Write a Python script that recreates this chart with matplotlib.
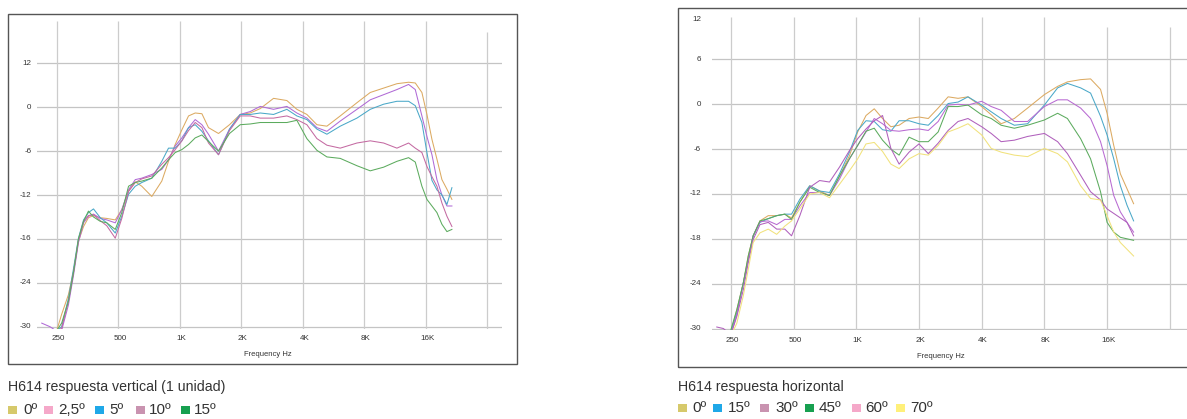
import numpy as np
import matplotlib
matplotlib.use('Agg')
import matplotlib.pyplot as plt
from matplotlib.patches import Rectangle
from matplotlib.transforms import blended_transform_factory, offset_copy

nan = np.nan

# ---------------- data: vertical response (left chart) ----------------
freqs_v = [211, 232, 250, 264, 285, 302, 319, 338, 357, 378, 408, 439, 483, 520, 561,
           605, 651, 729, 816, 880, 949, 1023, 1103, 1189, 1282, 1381, 1546, 1750,
           1974, 2210, 2474, 2874, 3340, 3737, 4184, 4685, 5243, 6093, 7352, 8543,
           9932, 11538, 13160, 14190, 15290, 16180, 17120, 18110, 19160, 20270, 21440]
v_0 = [nan, nan, -30.5, -28.3, -25.6, -22.4, -18.3, -16.3, -15.1, -14.8, -15.1, -15.2, -15.4, -14.0, -11.5,
       -10.2, -10.8, -12.2, -10.1, -7.4, -5.1, -3.1, -1.2, -0.8, -0.9, -2.8, -3.6, -2.4,
       -1.0, -0.8, -0.2, 1.2, 0.9, -0.3, -1.0, -2.4, -2.6, -1.2, 0.6, 2.0,
       2.6, 3.2, 3.4, 3.3, 2.0, -1.0, -4.4, -7.1, -9.9, -11.2, -12.6]
v_25 = [-29.5, -30.0, -30.6, -30.5, -27.0, -22.9, -18.5, -15.8, -14.9, -14.6, -15.2, -15.4, -15.8, -14.0, -11.3,
        -9.9, -9.7, -9.2, -8.5, -7.2, -5.3, -4.2, -2.8, -1.7, -2.4, -3.7, -6.0, -3.0,
        -1.0, -0.6, 0.1, -0.3, 0.1, -0.8, -1.5, -2.8, -3.3, -1.9, -0.3, 1.0,
        1.7, 2.4, 3.1, 2.4, -1.2, -4.0, -6.5, -9.9, -12.0, -13.5, -13.5]
v_5 = [nan, nan, -30.5, -30.0, -26.1, -22.0, -17.9, -15.4, -14.4, -13.9, -15.1, -15.8, -17.2, -14.9, -11.9,
       -10.8, -10.3, -9.7, -7.4, -5.6, -5.6, -4.6, -2.8, -2.4, -3.3, -4.6, -6.5, -3.0,
       -1.0, -1.0, -0.8, -1.0, -0.3, -1.2, -1.7, -3.0, -3.7, -2.6, -1.5, -0.3,
       0.4, 0.8, 0.8, 0.2, -2.1, -6.2, -10.0, -11.3, -12.0, -13.3, -11.0]
v_10 = [nan, nan, -30.6, -30.2, -26.5, -22.5, -18.2, -15.6, -14.8, -14.7, -15.5, -16.2, -17.9, -15.2, -11.5,
        -10.3, -9.8, -9.4, -7.8, -6.9, -5.8, -4.6, -3.2, -2.1, -2.8, -4.9, -6.5, -3.2,
        -1.2, -1.2, -1.5, -1.5, -1.2, -1.7, -2.4, -4.3, -5.2, -5.6, -4.9, -4.6,
        -4.9, -5.6, -4.9, -5.6, -6.2, -8.1, -9.5, -10.8, -13.1, -14.9, -16.3]
v_15 = [nan, nan, -30.5, -29.5, -26.5, -22.5, -18.0, -15.6, -14.2, -15.0, -15.6, -15.8, -16.7, -14.4, -10.8,
        -10.3, -10.1, -9.7, -8.3, -7.2, -6.2, -5.8, -5.1, -4.2, -3.8, -4.7, -6.0, -3.6,
        -2.4, -2.3, -2.1, -2.1, -2.1, -1.8, -4.3, -5.9, -6.8, -7.0, -8.0, -8.7,
        -8.2, -7.4, -6.9, -7.5, -10.8, -12.6, -13.5, -14.4, -16.0, -17.0, -16.7]
labels_v = ['0º', '2,5º', '5º', '10º', '15º']
title_v = 'H614 respuesta vertical (1 unidad)'

# ---------------- data: horizontal response (right chart) ----------------
freqs_h = [214, 230, 250, 267, 287, 303, 320, 345, 378, 415, 454, 489, 536, 598, 667,
           744, 831, 927, 1016, 1114, 1220, 1337, 1466, 1606, 1793, 2000, 2217, 2473,
           2761, 3081, 3438, 4000, 4445, 4959, 5740, 6647, 8000, 9262, 10320, 11940,
           13330, 14880, 16000, 17220, 18530, 19940, 21450]
h_0 = [nan, nan, -30.5, -27.5, -23.9, -20.3, -17.6, -15.6, -14.9, -14.9, -14.7, -15.2, -13.1, -10.9, -11.6,
       -12.2, -9.6, -6.9, -3.7, -1.5, -0.6, -1.9, -3.0, -2.8, -1.9, -1.7, -1.9, -0.5,
       1.0, 0.8, 1.0, -0.3, -1.4, -2.6, -1.9, -0.5, 1.3, 2.4, 3.0, 3.3,
       3.4, 2.0, -1.2, -5.5, -9.3, -11.3, -13.3]
h_15 = [nan, nan, -30.5, -27.9, -23.9, -20.8, -17.6, -15.8, -15.3, -14.9, -14.7, -14.7, -12.7, -10.9, -11.6,
        -11.8, -9.3, -6.4, -3.5, -2.2, -2.3, -3.4, -3.6, -2.2, -2.2, -2.6, -2.8, -1.5,
        0.1, 0.3, 1.0, -0.1, -1.0, -1.9, -2.8, -2.6, -0.1, 2.2, 2.8, 2.2,
        1.5, -1.6, -4.1, -7.3, -10.9, -13.5, -15.6]
h_30 = [nan, nan, -30.8, -28.2, -23.9, -20.8, -17.6, -15.7, -15.6, -16.1, -15.4, -15.4, -13.6, -11.8, -11.8,
        -12.2, -10.0, -7.3, -5.5, -3.7, -1.9, -2.6, -3.5, -3.6, -3.4, -3.3, -3.5, -2.3,
        -0.1, 0.0, -0.1, 0.4, -0.3, -0.8, -2.3, -2.3, -0.3, 0.6, 0.6, -0.5,
        -1.9, -5.0, -8.2, -12.2, -14.4, -15.8, -17.1]
h_45 = [nan, nan, -30.2, -27.5, -23.9, -20.3, -17.6, -15.6, -15.3, -14.9, -14.7, -15.4, -13.1, -11.1, -11.8,
        -12.2, -9.6, -7.3, -5.5, -3.6, -3.2, -4.8, -6.0, -6.8, -4.4, -5.0, -5.0, -3.7,
        -0.3, -0.3, -0.1, -1.4, -1.9, -2.8, -3.2, -2.8, -2.1, -1.2, -1.9, -4.6,
        -7.3, -11.7, -15.8, -17.1, -17.8, -18.0, -18.2]
h_60 = [-29.8, -30.0, -30.8, -28.4, -24.8, -21.2, -18.1, -16.1, -15.8, -16.7, -16.7, -17.6, -14.9, -11.1, -10.2,
        -10.4, -8.4, -6.2, -4.6, -3.3, -2.2, -1.5, -5.9, -8.0, -6.4, -5.3, -6.6, -5.2,
        -3.5, -2.3, -1.9, -3.0, -3.9, -5.0, -4.8, -4.3, -3.9, -5.0, -6.6, -9.5,
        -11.7, -12.8, -14.0, -14.6, -15.2, -15.8, -17.6]
h_70 = [nan, nan, -31.0, -29.3, -25.6, -22.1, -18.5, -17.2, -16.7, -17.4, -16.3, -15.6, -14.0, -12.0, -11.8,
        -12.5, -10.7, -8.9, -7.3, -5.3, -5.1, -6.3, -8.0, -8.6, -7.3, -6.6, -6.8, -5.5,
        -3.7, -3.2, -2.6, -4.1, -5.9, -6.4, -6.8, -7.0, -5.9, -6.6, -7.7, -10.9,
        -12.6, -12.8, -14.9, -17.1, -18.5, -19.4, -20.3]
labels_h = ['0º', '15º', '30º', '45º', '60º', '70º']
title_h = 'H614 respuesta horizontal'

grid_freqs = [250, 500, 1000, 2000, 4000, 8000, 16000, 32000]
xtick_labels = ['250', '500', '1K', '2K', '4K', '8K', '16K']
grid_db = [6, 0, -6, -12, -18, -24, -30]
ylabels_v = ['12', '0', '-6', '-12', '-16', '-24', '-30']
ytick_pos_h = [11.4, 6, 0, -6, -12, -18, -24, -30]
ylabels_h = ['12', '6', '0', '-6', '-12', '-18', '-24', '-30']

# ---------------- styling ----------------
line_cols_v = ['#dcaa62', '#b06ad6', '#4aa8c8', '#c46aa2', '#5cab5e']
line_cols_h = ['#dcaa62', '#4aa8c8', '#b86ad2', '#5cab5e', '#b060bc', '#f1e27c']
swatch_v = ['#d6c96b', '#f5a8c9', '#1fa8e8', '#c993b0', '#17a050']
swatch_h = ['#d6c96b', '#1fa8e8', '#c993b0', '#17a050', '#f5a8c9', '#fff07a']

plt.rcParams['font.family'] = ['Liberation Sans', 'DejaVu Sans']
W, H = 1187, 419
fig = plt.figure(figsize=(W / 100, H / 100), dpi=100)
fig.patch.set_facecolor('white')
TXT = '#333333'


def px_axes(l, t, r, b):
    ax = fig.add_axes([l / W, 1 - b / H, (r - l) / W, (b - t) / H])
    ax.set_axis_off()
    return ax


def frame(l, t, r, b):
    fig.add_artist(Rectangle((l / W, 1 - b / H), (r - l) / W, (b - t) / H,
                             transform=fig.transFigure, fill=False,
                             edgecolor='#555555', linewidth=1.0))


def chart(ax, freqs, series, cols, xlim, ylim, vtops, ytick_pos, ylabels, ylab_x, flab_x):
    ax.set_xscale('log')
    ax.set_xlim(*xlim)
    ax.set_ylim(*ylim)
    for v in grid_db:
        ax.axhline(v, color='#c4c4c4', lw=0.9, zorder=1)
    for f, top in zip(grid_freqs, vtops):
        ax.vlines(f, ylim[0], top, color='#cccccc', lw=0.9, zorder=1)
    for s, c in zip(series, cols):
        ax.plot(freqs, s, color=c, lw=0.75, zorder=3, solid_joinstyle='round')
    tr_y = blended_transform_factory(ax.transAxes, ax.transData)
    for p, lab in zip(ytick_pos, ylabels):
        ax.text(ylab_x, p, lab, transform=tr_y, ha='right', va='center',
                fontsize=5.8, color=TXT)
    tr_x = offset_copy(blended_transform_factory(ax.transData, ax.transAxes),
                       fig=fig, x=1.5, y=0, units='dots')
    for f, lab in zip(grid_freqs, xtick_labels):
        ax.text(f, -0.032, lab, transform=tr_x, ha='center', va='center',
                fontsize=5.8, color=TXT)
    ax.text(flab_x, -0.083, 'Frequency Hz', transform=ax.transAxes, ha='center',
            va='center', fontsize=5.5, color=TXT)


def legend(x_sq, x_txt, y, labels, swatches):
    for xs, xt, lab, c in zip(x_sq, x_txt, labels, swatches):
        fig.add_artist(Rectangle((xs / W, 1 - (y + 4) / H), 9 / W, 8 / H,
                                 transform=fig.transFigure, facecolor=c, edgecolor='none'))
        fig.text(xt / W, 1 - y / H, lab, ha='left', va='center', fontsize=11, color=TXT)


# left chart
frame(8, 14, 517, 364)
axL = px_axes(37, 20, 502, 329)
chart(axL, freqs_v, [v_0, v_25, v_5, v_10, v_15], line_cols_v,
      (200, 37700), (-30.3, 11.9), [11.7] * 7 + [10.3],
      grid_db, ylabels_v, -0.012, 0.497)
fig.text(8 / W, 1 - 387 / H, title_v, ha='left', va='center', fontsize=10.2, color=TXT)
legend([8, 44, 95, 136, 181], [23, 58, 109, 149, 194], 410, labels_v, swatch_v)

# right chart
frame(678, 8, 1200, 367)
axR = px_axes(712, 15, 1187, 330)
chart(axR, freqs_h, [h_0, h_15, h_30, h_45, h_60, h_70], line_cols_h,
      (203, 38700), (-30.2, 11.95), [11.7] * 6 + [10.35, 10.35],
      ytick_pos_h, ylabels_h, -0.023, 0.482)
fig.text(678 / W, 1 - 387 / H, title_h, ha='left', va='center', fontsize=10.2, color=TXT)
legend([678, 713, 760, 805, 852, 896], [692, 728, 775, 819, 865, 910], 408, labels_h, swatch_h)

fig.savefig('out.png', dpi=100, facecolor='white')
